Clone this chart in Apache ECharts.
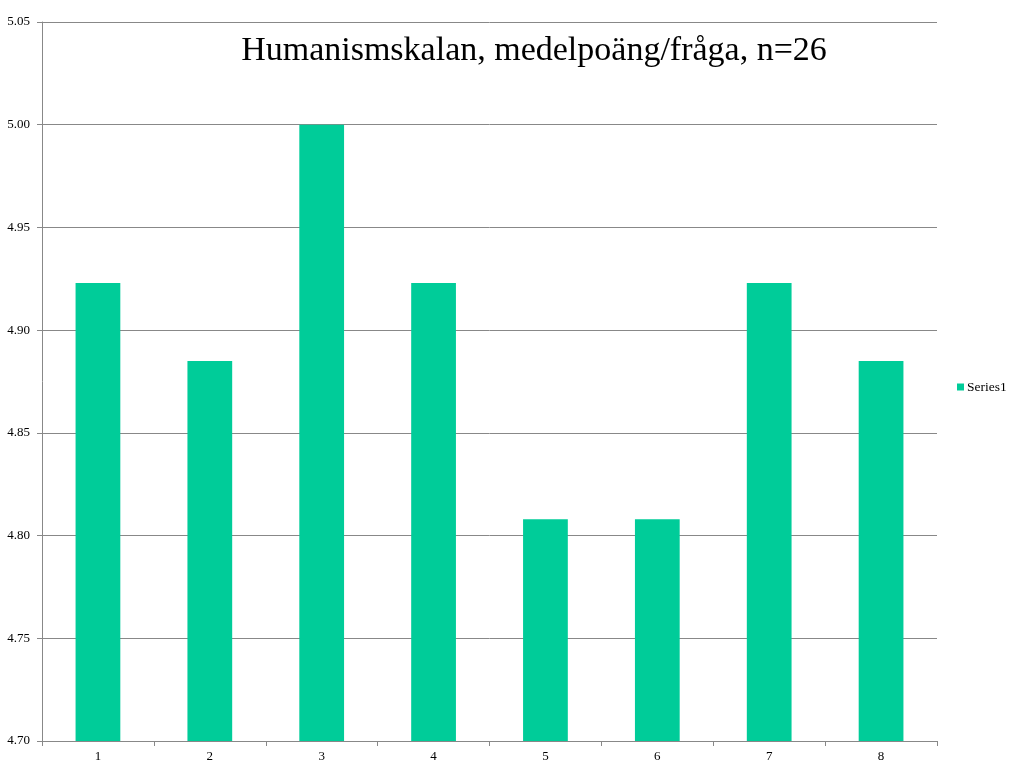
<!DOCTYPE html>
<html>
<head>
<meta charset="utf-8">
<script src="https://cdn.jsdelivr.net/npm/echarts@6/dist/echarts.min.js"></script>
<style>
html,body{margin:0;padding:0;background:#fff;}
#chart{width:1024px;height:768px;}
</style>
</head>
<body>
<div id="chart"></div>
<script>
var categories = ['1','2','3','4','5','6','7','8'];
var series1 = [4.923, 4.885, 5.000, 4.923, 4.808, 4.808, 4.923, 4.885];
var titleText = 'Humanismskalan, medelpoäng/fråga, n=26';
var seriesName = 'Series1';

var chart = echarts.init(document.getElementById('chart'));
chart.setOption({
  animation: false,
  backgroundColor: '#ffffff',
  title: {
    text: titleText,
    left: 529, top: 29, textAlign: 'center',
    textStyle: { fontFamily: 'Liberation Serif', fontSize: 34, fontWeight: 'normal', color: '#000' }
  },
  legend: {
    data: [seriesName],
    orient: 'vertical',
    left: 952, top: 375,
    itemWidth: 7, itemHeight: 7, itemGap: 4,
    icon: 'rect',
    textStyle: { fontFamily: 'Liberation Serif', fontSize: 13.5, color: '#000', padding: [0,0,0,-2] }
  },
  grid: { left: 42, right: 87, top: 22, bottom: 27, containLabel: false },
  xAxis: {
    type: 'category',
    data: categories,
    boundaryGap: true,
    axisLine: { lineStyle: { color: '#888', width: 1 } },
    axisTick: { show: true, alignWithLabel: false, length: 5, lineStyle: { color: '#888' } },
    axisLabel: { fontFamily: 'Liberation Serif', fontSize: 13, color: '#000', margin: 9 }
  },
  yAxis: {
    type: 'value',
    min: 4.70, max: 5.05, interval: 0.05,
    axisLine: { show: true, lineStyle: { color: '#888', width: 1 } },
    axisTick: { show: true, length: 5, lineStyle: { color: '#888' } },
    splitLine: { show: true, lineStyle: { color: '#888', width: 1 } },
    axisLabel: { fontFamily: 'Liberation Serif', fontSize: 13, color: '#000', margin: 12,
      formatter: function (v) { return v.toFixed(2); } }
  },
  series: [{
    name: seriesName,
    type: 'bar',
    data: series1,
    barWidth: '40%',
    itemStyle: { color: '#00CC99' }
  }]
});
</script>
</body>
</html>
